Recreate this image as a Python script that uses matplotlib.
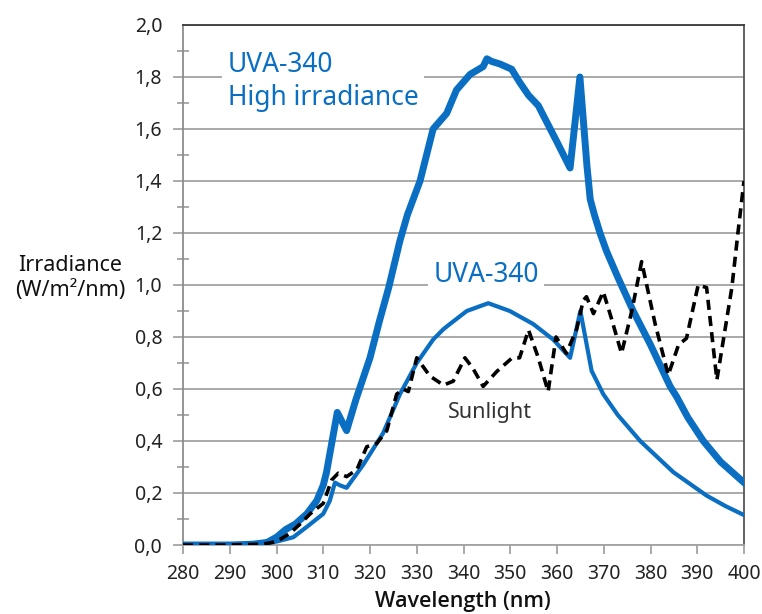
import matplotlib
matplotlib.use("Agg")
import matplotlib.pyplot as plt

plt.rcParams["font.family"] = ["Noto Sans", "DejaVu Sans"]

# --- data (W/m2/nm vs nm) ---
hi_wl = [280, 285, 290, 295, 298, 300, 302, 304, 306.5, 308.6, 310, 310.7, 311.8,
         313, 315, 317, 320, 322, 324, 326.4, 328, 330.7, 333.5, 336.4, 338.5,
         341.4, 344.2, 345, 346, 347.8, 350.3, 352, 353.9, 356, 358, 360, 362.8,
         364.9, 366.4, 367.1, 368, 369.2, 370.6, 373, 376.3, 380, 384.2, 385.6,
         388, 391.3, 395, 400]
hi_val = [0, 0, 0, 0.003, 0.01, 0.03, 0.06, 0.08, 0.12, 0.17, 0.23, 0.28, 0.39,
          0.51, 0.44, 0.56, 0.72, 0.86, 0.99, 1.17, 1.27, 1.40, 1.60, 1.66, 1.75,
          1.81, 1.84, 1.87, 1.86, 1.85, 1.83, 1.78, 1.73, 1.69, 1.62, 1.55, 1.45,
          1.80, 1.46, 1.33, 1.27, 1.20, 1.13, 1.03, 0.90, 0.77, 0.61, 0.57,
          0.49, 0.40, 0.32, 0.24]

uva_wl = [280, 290, 296, 300, 303.6, 306.5, 310, 311.4, 312.5, 313.5, 315, 318.6,
          322.8, 326.4, 330, 333.5, 335.7, 337.1, 340.7, 345.3, 349.9, 354.9,
          359.2, 362.8, 365, 367.4, 369.9, 373, 377.8, 384.9, 392, 396, 400]
uva_val = [0, 0, 0.003, 0.013, 0.03, 0.07, 0.12, 0.17, 0.24, 0.23, 0.22, 0.31,
           0.43, 0.58, 0.70, 0.79, 0.83, 0.85, 0.90, 0.93, 0.90, 0.85,
           0.79, 0.72, 0.90, 0.67, 0.58, 0.50, 0.40, 0.28, 0.19, 0.15, 0.115]

sun_wl = [280, 290, 297, 300, 302.9, 305, 307.2, 310, 311.8, 313.2, 315, 317.2,
          319.3, 321.4, 323.6, 325.7, 327.1, 328.2, 330, 332.8, 335.7, 337.8,
          340.3, 342, 344.2, 347.1, 350.3, 352, 353.9, 356, 358.1, 359.8, 362,
          364.2, 365.6, 366.3, 367.8, 369.9, 371.5, 373.8, 376, 378.1, 381,
          383.8, 386, 387.7, 390.2, 392, 394.2, 397.4, 398.7, 400]
sun_val = [0, 0, 0.003, 0.013, 0.045, 0.08, 0.12, 0.16, 0.25, 0.276, 0.263, 0.29,
           0.378, 0.39, 0.44, 0.58, 0.60, 0.59, 0.72, 0.65, 0.615, 0.63,
           0.72, 0.68, 0.61, 0.667, 0.718, 0.72, 0.827, 0.72, 0.59, 0.80, 0.737,
           0.83, 0.94, 0.955, 0.89, 0.974, 0.88, 0.737, 0.90, 1.09, 0.85,
           0.654, 0.77, 0.795, 1.0, 0.99, 0.635, 0.99, 1.2, 1.40]

x_ticks = [280, 290, 300, 310, 320, 330, 340, 350, 360, 370, 380, 390, 400]
y_ticks = [0.0, 0.2, 0.4, 0.6, 0.8, 1.0, 1.2, 1.4, 1.6, 1.8, 2.0]
y_labels = ["0,0", "0,2", "0,4", "0,6", "0,8", "1,0", "1,2", "1,4", "1,6", "1,8", "2,0"]
y_minor = [0.1, 0.3, 0.5, 0.7, 0.9, 1.1, 1.3, 1.5, 1.7, 1.9]

blue = "#0a6fc2"
grid_c = "#a3a3a3"

fig = plt.figure(figsize=(7.62, 6.14), dpi=100)
ax = fig.add_axes([183 / 762, 1 - 545 / 614, (744 - 183) / 762, (545 - 25) / 614])

ax.set_xlim(280, 400)
ax.set_ylim(0, 2.0)

# grid + axes styling
ax.set_yticks(y_ticks)
ax.set_yticklabels(y_labels)
ax.set_yticks(y_minor, minor=True)
ax.set_xticks(x_ticks)
ax.grid(axis="y", which="major", color=grid_c, linewidth=1.3, zorder=0)
# gridlines poke out a little left of the axis
for v in y_ticks[:-1]:
    ax.plot([-0.016, 0], [v, v], transform=ax.get_yaxis_transform(), color=grid_c,
            linewidth=1.3, clip_on=False, zorder=0)
ax.tick_params(axis="y", which="major", length=0, pad=15, labelsize=14, colors="#222222")
ax.tick_params(axis="y", which="minor", direction="inout", length=8, width=1.3, color=grid_c)
ax.tick_params(axis="x", which="major", direction="out", length=6.5, width=1.3,
               color=grid_c, labelsize=14, labelcolor="#222222", pad=7)

ax.spines["left"].set_color("#8c8c8c")
ax.spines["left"].set_linewidth(1.3)
ax.spines["bottom"].set_color(grid_c)
ax.spines["bottom"].set_linewidth(1.3)
ax.spines["top"].set_color("#3a3a3a")
ax.spines["top"].set_linewidth(1.3)
ax.spines["right"].set_color("#555555")
ax.spines["right"].set_linewidth(1.3)

# curves
ax.plot(hi_wl, hi_val, color=blue, linewidth=5.0, solid_joinstyle="round", zorder=4)
ax.plot(uva_wl, uva_val, color=blue, linewidth=3.0, solid_joinstyle="round", zorder=4)
ax.plot(sun_wl, sun_val, color="black", linewidth=2.6, linestyle=(0, (2.8, 1.7)), zorder=5)

# annotations
box = dict(facecolor="white", edgecolor="none", pad=4)
ax.text(289.6, 1.90, "UVA-340\nHigh irradiance", color=blue, fontsize=19,
        ha="left", va="top", linespacing=1.25, bbox=box, zorder=2)
ax.text(344.8, 1.04, "UVA-340", color=blue, fontsize=19, ha="center", va="center",
        bbox=box, zorder=2)
ax.text(345.6, 0.51, "Sunlight", color="#333333", fontsize=15.5, ha="center", va="center",
        zorder=2)

fig.text(70 / 762, 1 - 278 / 614, "Irradiance\n(W/m²/nm)", fontsize=15.5,
         ha="center", va="center", linespacing=1.25, color="#111111")
fig.text(463 / 762, 1 - 601 / 614, "Wavelength (nm)", fontsize=15.5, weight=600,
         family=["Open Sans", "Noto Sans", "DejaVu Sans"],
         ha="center", va="center", color="#111111")

fig.savefig("out.png", dpi=100)
